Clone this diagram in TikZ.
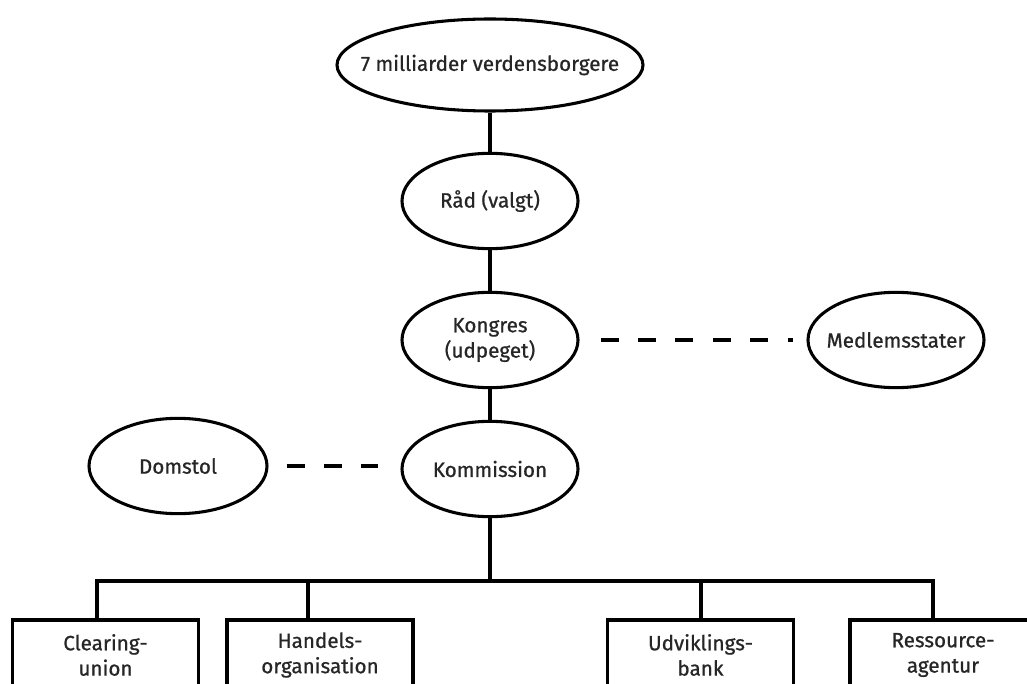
\documentclass[tikz,border=0pt]{standalone}
\usepackage{fontspec}
\setmainfont{Fira Sans}[FakeBold=0.8]
\usetikzlibrary{shapes.geometric}
\begin{document}
\begin{tikzpicture}[x=0.75pt,y=-0.75pt,
  every node/.style={font=\fontsize{15.5}{19}\selectfont, text=black!85, align=center},
  oval/.style={draw=black, line width=2.3pt, ellipse, inner xsep=-30pt, inner ysep=-10pt, minimum width=132pt, minimum height=71.5pt},
  unit/.style={draw=black, line width=2.3pt, rectangle, inner sep=0pt, minimum width=139.5pt, minimum height=52.5pt},
  link/.style={draw=black, line width=2.3pt},
  dlink/.style={draw=black, line width=2.3pt, dash pattern=on 13.5pt off 14.6pt}]
\useasboundingbox[fill=white] (0,0) rectangle (1027,684);
\node[oval, minimum width=229.5pt, minimum height=69pt] (top) at (490,65) {7 milliarder verdensborgere};
\node[oval] (rad) at (490,201) {Råd (valgt)};
\node[oval] (kon) at (490,340) {Kongres\\(udpeget)};
\node[oval] (kom) at (490,469) {Kommission};
\node[oval] (med) at (896,340) {Medlemsstater};
\node[oval, minimum width=133.5pt] (dom) at (178,466) {Domstol};
\node[unit] (clr) at (105.5,655) {Clearing-\\union};
\node[unit] (han) at (320,655) {Handels-\\organisation};
\node[unit] (udv) at (700.5,655) {Udviklings-\\bank};
\node[unit] (res) at (943,655) {Ressource-\\agentur};
\coordinate (bus) at (490,581);
\coordinate (j1) at (97,581);
\coordinate (j2) at (308,581);
\coordinate (j3) at (701,581);
\coordinate (j4) at (933,581);
\draw[link] (top) -- (rad);
\draw[link] (rad) -- (kon);
\draw[link] (kon) -- (kom);
\draw[link] (kom) -- (bus);
\draw[link] (j1 |- clr.north) -- (j1) -- (j4) -- (j4 |- res.north);
\draw[link] (j2) -- (j2 |- han.north);
\draw[link] (j3) -- (j3 |- udv.north);
\draw[dlink, shorten <=15.75pt, shorten >=9.75pt] (kon.east) -- (med.west);
\draw[dlink, shorten <=13.5pt, shorten >=16.5pt] (dom.east) -- (dom.east -| kom.west);
\end{tikzpicture}
\end{document}
